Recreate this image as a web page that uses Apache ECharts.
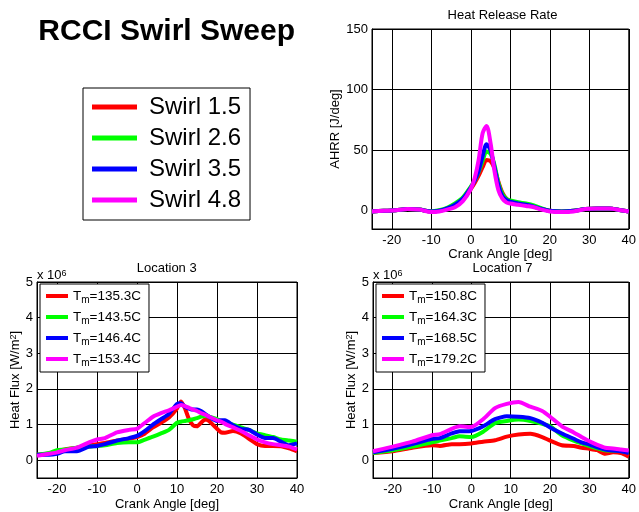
<!DOCTYPE html>
<html>
<head>
<meta charset="utf-8">
<script src="https://cdn.jsdelivr.net/npm/echarts@6/dist/echarts.min.js"></script>
<style>
html,body{margin:0;padding:0;background:#fff;}
#c{width:639px;height:512px;}
</style>
</head>
<body>
<div id="c"></div>
<script>
// ---------------- DATA ----------------
const swirlNames = ['Swirl 1.5', 'Swirl 2.6', 'Swirl 3.5', 'Swirl 4.8'];
const loc3Names = ['Tm=135.3C', 'Tm=143.5C', 'Tm=146.4C', 'Tm=153.4C'];
const loc7Names = ['Tm=150.8C', 'Tm=164.3C', 'Tm=168.5C', 'Tm=179.2C'];
const lineColors = ['#ff0000', '#00ff00', '#0000ff', '#ff00ff'];

// Heat release rate [J/deg] vs crank angle [deg]
const hrrAngle = [-25,-22,-19,-16,-13,-10,-8,-6,-4,-2,0,1,2,3,4,5,6,7,8,9,10,12,14,16,18,20,23,26,29,32,35,38,40];
const hrrSwirl15 = [-0.5,0,0.5,1.5,1,-0.5,0,1.5,4,9,18,23,29,36,42,41,35,24,15,10,8,6,5,3.5,1.5,0,-0.5,0,1.5,2,2,0.5,-0.5];
const hrrSwirl26 = [-0.5,0,0.5,1.5,1,-0.5,0.5,2.5,6,11,20,25,32,41,49,47,38,23,14,10,8.5,7,6,4.5,2,0,-0.5,0,1.5,2,2,0.5,-0.5];
const hrrSwirl35 = [-0.5,0,0.5,1.5,1,-0.5,0,2,5,10,19,25,33,45,55,50,36,21,12,9,7.5,6,5,3.5,1.5,0,-0.5,0,1.5,2,2,0.5,-0.5];
const hrrSwirl48 = [-0.5,0,0.5,1.5,1,-1,-0.5,1,3,8,18,27,42,64,70,56,33,17,10,7,6,5,4,3,1,-0.5,-1,-0.5,1.5,2,2,0.5,-0.5];

// Heat flux, Location 3 [x 10^6 W/m^2]
const loc3Angle = [-25,-22,-20,-18,-15,-12,-10,-8,-5,-2,0,2,4,6,8,10,11,12,13,14,15,16,17,18,20,21,22,24,26,28,30,32,34,36,38,40];
const loc3Tm1353 = [0.15,0.18,0.25,0.3,0.35,0.42,0.45,0.48,0.55,0.6,0.65,0.75,0.92,1.05,1.2,1.45,1.65,1.45,1.15,0.98,0.95,1.05,1.14,1.1,0.88,0.78,0.77,0.82,0.75,0.6,0.45,0.4,0.4,0.39,0.33,0.25];
const loc3Tm1435 = [0.15,0.2,0.28,0.3,0.35,0.38,0.4,0.42,0.48,0.5,0.5,0.58,0.66,0.75,0.85,1.05,1.08,1.1,1.12,1.15,1.18,1.22,1.25,1.22,1.15,1.1,1.06,1.0,0.92,0.85,0.75,0.7,0.65,0.58,0.55,0.52];
const loc3Tm1464 = [0.15,0.15,0.18,0.25,0.25,0.38,0.4,0.45,0.55,0.62,0.68,0.82,1.0,1.15,1.3,1.58,1.6,1.5,1.45,1.42,1.42,1.38,1.3,1.22,1.1,1.12,1.12,0.98,0.88,0.85,0.72,0.62,0.62,0.52,0.42,0.47];
const loc3Tm1534 = [0.12,0.18,0.22,0.28,0.35,0.5,0.58,0.62,0.78,0.85,0.88,1.05,1.22,1.32,1.4,1.5,1.55,1.52,1.47,1.42,1.38,1.32,1.28,1.22,1.12,1.08,1.02,0.92,0.82,0.7,0.58,0.5,0.45,0.42,0.38,0.3];

// Heat flux, Location 7 [x 10^6 W/m^2]
const loc7Angle = [-25,-20,-15,-10,-8,-5,-3,0,3,6,9,12,15,18,20,23,26,28,30,32,34,36,38,40];
const loc7Tm1508 = [0.2,0.25,0.35,0.42,0.4,0.45,0.45,0.47,0.52,0.56,0.66,0.72,0.74,0.65,0.55,0.42,0.4,0.35,0.32,0.28,0.18,0.22,0.2,0.1];
const loc7Tm1643 = [0.2,0.28,0.38,0.5,0.55,0.62,0.67,0.65,0.8,1.04,1.1,1.14,1.1,1.02,0.95,0.7,0.55,0.47,0.4,0.33,0.28,0.27,0.26,0.22];
const loc7Tm1685 = [0.22,0.32,0.45,0.6,0.62,0.75,0.81,0.82,0.95,1.15,1.23,1.22,1.18,1.05,0.92,0.75,0.6,0.5,0.44,0.36,0.3,0.27,0.25,0.2];
const loc7Tm1792 = [0.25,0.38,0.52,0.7,0.73,0.88,0.95,0.93,1.15,1.46,1.58,1.63,1.5,1.38,1.22,0.95,0.78,0.65,0.53,0.43,0.35,0.33,0.3,0.27];

// ---------------- CHART ----------------
const FONT = '"Liberation Sans", Arial, sans-serif';
function pairs(xs, ys) { return xs.map((x, i) => [x, ys[i]]); }

const hrrSets = [hrrSwirl15, hrrSwirl26, hrrSwirl35, hrrSwirl48];
const loc3Sets = [loc3Tm1353, loc3Tm1435, loc3Tm1464, loc3Tm1534];
const loc7Sets = [loc7Tm1508, loc7Tm1643, loc7Tm1685, loc7Tm1792];

const series = [];
hrrSets.forEach((ys, i) => series.push({
  name: swirlNames[i], type: 'line', xAxisIndex: 0, yAxisIndex: 0,
  data: pairs(hrrAngle, ys), showSymbol: false, smooth: 0.3,
  color: lineColors[i], lineStyle: { width: 4, color: lineColors[i] }
}));
loc3Sets.forEach((ys, i) => series.push({
  name: loc3Names[i], type: 'line', xAxisIndex: 1, yAxisIndex: 1,
  data: pairs(loc3Angle, ys), showSymbol: false, smooth: 0.2,
  color: lineColors[i], lineStyle: { width: 4, color: lineColors[i] }
}));
loc7Sets.forEach((ys, i) => series.push({
  name: loc7Names[i], type: 'line', xAxisIndex: 2, yAxisIndex: 2,
  data: pairs(loc7Angle, ys), showSymbol: false, smooth: 0.2,
  color: lineColors[i], lineStyle: { width: 4, color: lineColors[i] }
}));

function xAx(gi, gap) {
  return {
    type: 'value', gridIndex: gi, min: -25, max: 40, splitNumber: 5,
    name: 'Crank Angle [deg]', nameLocation: 'middle', nameGap: gap,
    nameTextStyle: { fontFamily: FONT, fontSize: 13, color: '#000' },
    axisLine: { show: true, onZero: false, lineStyle: { color: '#000', width: 1 } },
    axisTick: { show: true, inside: true, length: 4, lineStyle: { color: '#000' } },
    axisLabel: { fontFamily: FONT, fontSize: 13, color: '#000', margin: 5, showMinLabel: false },
    splitLine: { show: true, lineStyle: { color: '#000', width: 1 } }
  };
}
function yAx(gi, min, max, split, name, gap) {
  return {
    type: 'value', gridIndex: gi, min: min, max: max, splitNumber: split,
    name: name, nameLocation: 'middle', nameGap: gap, nameRotate: 90,
    nameTextStyle: { fontFamily: FONT, fontSize: 13, color: '#000', rich: {
      sup: { fontFamily: FONT, fontSize: 9, verticalAlign: 'top', color: '#000' } } },
    axisLine: { show: true, onZero: false, lineStyle: { color: '#000', width: 1 } },
    axisTick: { show: true, inside: true, length: 4, lineStyle: { color: '#000' } },
    axisLabel: { fontFamily: FONT, fontSize: 13, color: '#000', margin: 4, showMinLabel: false },
    splitLine: { show: true, lineStyle: { color: '#000', width: 1 } }
  };
}

function tmFormatter(name) { return '{t|T}{s|m}{t|' + name.slice(2) + '}'; }
const tmRich = {
  t: { fontFamily: FONT, fontSize: 13.5, lineHeight: 18, verticalAlign: 'middle', color: '#000' },
  s: { fontFamily: FONT, fontSize: 10, lineHeight: 10, verticalAlign: 'bottom', color: '#000' }
};
function tmLegend(names, left) {
  return {
    data: names, left: left, top: 284, orient: 'vertical', icon: 'rect',
    itemWidth: 22, itemHeight: 4, itemGap: 5, padding: [5, 8, 4, 6],
    borderColor: '#000', borderWidth: 1, backgroundColor: '#fff', selectedMode: false,
    formatter: tmFormatter, textStyle: { fontFamily: FONT, fontSize: 13.5, color: '#000', rich: tmRich }
  };
}

const option = {
  animation: false,
  backgroundColor: '#fff',
  grid: [
    { left: 372, top: 29, width: 261, height: 200, show: true, borderColor: '#000', borderWidth: 1, backgroundColor: 'transparent' },
    { left: 37, top: 282, width: 260, height: 197, show: true, borderColor: '#000', borderWidth: 1, backgroundColor: 'transparent' },
    { left: 373, top: 282, width: 260, height: 197, show: true, borderColor: '#000', borderWidth: 1, backgroundColor: 'transparent' }
  ],
  xAxis: [xAx(0, 17), xAx(1, 20), xAx(2, 20)],
  yAxis: [
    yAx(0, -15, 150, 4, 'AHRR [J/deg]', 26),
    yAx(1, -0.5, 5, 5, 'Heat Flux [W/m{sup|2}]', 12),
    yAx(2, -0.5, 5, 5, 'Heat Flux [W/m{sup|2}]', 12)
  ],
  legend: [
    {
      data: swirlNames, left: 83, top: 88, orient: 'vertical', icon: 'rect',
      itemWidth: 45, itemHeight: 5, itemGap: 7, padding: [7, 9, 8, 9],
      borderColor: '#000', borderWidth: 1, backgroundColor: '#fff', selectedMode: false,
      formatter: n => '{a|' + n + '}',
      textStyle: { fontFamily: FONT, fontSize: 24, color: '#000', rich: {
        a: { fontFamily: FONT, fontSize: 24, lineHeight: 26, color: '#000', padding: [0, 0, 0, 7] } } }
    },
    tmLegend(loc3Names, 40),
    tmLegend(loc7Names, 376)
  ],
  graphic: [
    { type: 'text', x: 166.7, y: 32, style: { text: 'RCCI Swirl Sweep', font: 'bold 30px ' + FONT, fill: '#000', textAlign: 'center', textVerticalAlign: 'middle' } },
    { type: 'text', x: 502.5, y: 15, style: { text: 'Heat Release Rate', font: '13px ' + FONT, fill: '#000', textAlign: 'center', textVerticalAlign: 'middle' } },
    { type: 'text', x: 166.7, y: 268, style: { text: 'Location 3', font: '13px ' + FONT, fill: '#000', textAlign: 'center', textVerticalAlign: 'middle' } },
    { type: 'text', x: 502.5, y: 268, style: { text: 'Location 7', font: '13px ' + FONT, fill: '#000', textAlign: 'center', textVerticalAlign: 'middle' } },
    { type: 'text', x: 37, y: 269, style: { text: 'x 10{sup|6}', font: '13px ' + FONT, fill: '#000', rich: { sup: { font: '9px ' + FONT, verticalAlign: 'top', fill: '#000' } } } },
    { type: 'text', x: 373, y: 269, style: { text: 'x 10{sup|6}', font: '13px ' + FONT, fill: '#000', rich: { sup: { font: '9px ' + FONT, verticalAlign: 'top', fill: '#000' } } } }
  ],
  series: series
};

const chart = echarts.init(document.getElementById('c'), null, { renderer: 'canvas' });
chart.setOption(option);
</script>
</body>
</html>
